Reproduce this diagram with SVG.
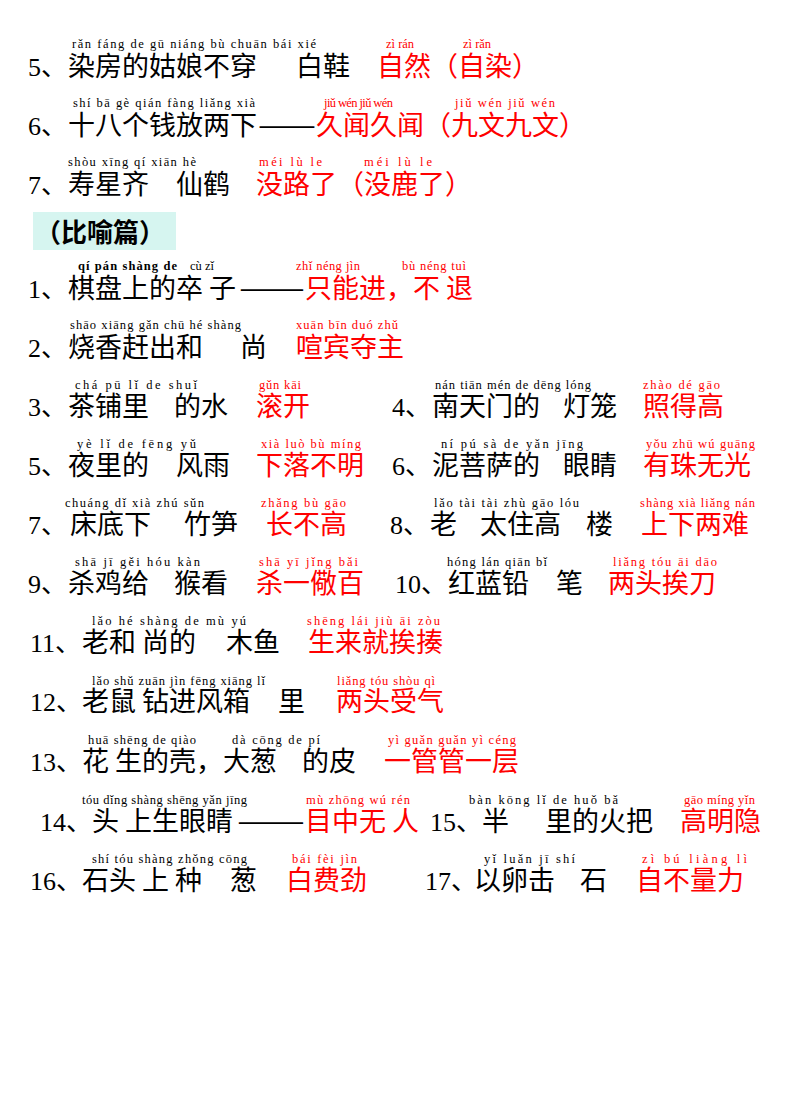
<svg xmlns="http://www.w3.org/2000/svg" width="800" height="1098" viewBox="0 0 800 1098">
<style>
.n{font-family:"Liberation Serif","Noto Sans CJK SC",serif;font-size:26px;fill:#000}
.c{font-family:"Noto Sans CJK SC",sans-serif;font-size:27px;fill:#000}
.r{fill:#f00}
.p{font-family:"Liberation Serif",serif;font-size:12.5px;fill:#000}
.pr{fill:#f00}
.b{font-weight:bold}
</style>
<rect width="800" height="1098" fill="#fff"/>
<g id="row1">
<text class="n" x="28" y="76">5、</text><text class="c" x="68" y="76">染房的姑娘不穿</text><text class="c" x="296" y="76">白鞋</text><text class="c r" x="377" y="76">自然（自染）</text>
<text class="p" x="72" y="48" textLength="244" lengthAdjust="spacing">rǎn fáng de gū niáng bù chuān bái xié</text>
<text class="p pr" x="386" y="48">zì rán</text><text class="p pr" x="463" y="48">zì rǎn</text>
</g>
<g id="row2">
<text class="n" x="28" y="135">6、</text><text class="c" x="68" y="135">十八个钱放两下</text><text class="c" x="258" y="135" textLength="58" lengthAdjust="spacingAndGlyphs">——</text><text class="c r" x="316" y="135">久闻久闻（九文九文）</text>
<text class="p" x="73" y="107" textLength="182" lengthAdjust="spacing">shí bā gè qián fàng liǎng xià</text>
<text class="p pr" x="324" y="107" textLength="69" lengthAdjust="spacing">jiǔ wén jiǔ wén</text><text class="p pr" x="455" y="107" textLength="100" lengthAdjust="spacing">jiǔ wén jiǔ wén</text>
</g>
<g id="row3">
<text class="n" x="28" y="194">7、</text><text class="c" x="68" y="194">寿星齐</text><text class="c" x="176" y="194">仙鹤</text><text class="c r" x="256" y="194">没路了（没鹿了）</text>
<text class="p" x="68" y="166" textLength="128" lengthAdjust="spacing">shòu xīng qí xiān hè</text>
<text class="p pr" x="259" y="166" textLength="63" lengthAdjust="spacing">méi lù le</text><text class="p pr" x="364" y="166" textLength="68" lengthAdjust="spacing">méi lù le</text>
</g>
<g id="header">
<rect x="33" y="212" width="143" height="38" fill="#d6f5f0"/>
<text class="c b" x="35" y="242" style="font-size:26px">（比喻篇）</text>
</g>
<g id="s1">
<text class="n" x="28" y="298">1、</text><text class="c" x="68" y="298">棋盘上的卒 子</text><text class="c" x="239" y="298" textLength="66" lengthAdjust="spacingAndGlyphs">——</text><text class="c r" x="305" y="298">只能进，不 退</text>
<text class="p b" x="78" y="270" textLength="99" lengthAdjust="spacing">qí pán shàng de</text><text class="p" x="190" y="270">cù   zǐ</text>
<text class="p pr" x="296" y="270" textLength="64" lengthAdjust="spacing">zhǐ néng jìn</text><text class="p pr" x="402" y="270" textLength="64" lengthAdjust="spacing">bù néng tuì</text>
</g>
<g id="s2">
<text class="n" x="28" y="357">2、</text><text class="c" x="68" y="357">烧香赶出和</text><text class="c" x="240" y="357">尚</text><text class="c r" x="296" y="357">喧宾夺主</text>
<text class="p" x="70" y="329" textLength="171" lengthAdjust="spacing">shāo xiāng gǎn chū hé shàng</text>
<text class="p pr" x="296" y="329" textLength="102" lengthAdjust="spacing">xuān bīn duó zhǔ</text>
</g>
<g id="s3">
<text class="n" x="28" y="416">3、</text><text class="c" x="68" y="416">茶铺里</text><text class="c" x="174" y="416">的水</text><text class="c r" x="256" y="416">滚开</text>
<text class="p" x="75" y="389" textLength="122" lengthAdjust="spacing">chá pū lǐ de shuǐ</text>
<text class="p pr" x="259" y="389" textLength="42" lengthAdjust="spacing">gǔn kāi</text>
</g>
<g id="s4">
<text class="n" x="392" y="416">4、</text><text class="c" x="432" y="416">南天门的</text><text class="c" x="563" y="416">灯笼</text><text class="c r" x="643" y="416">照得高</text>
<text class="p" x="435" y="389" textLength="156" lengthAdjust="spacing">nán tiān mén de dēng lóng</text>
<text class="p pr" x="643" y="389" textLength="77" lengthAdjust="spacing">zhào dé gāo</text>
</g>
<g id="s5">
<text class="n" x="28" y="475">5、</text><text class="c" x="68" y="475">夜里的</text><text class="c" x="176" y="475">风雨</text><text class="c r" x="256" y="475">下落不明</text>
<text class="p" x="77" y="448" textLength="119" lengthAdjust="spacing">yè lǐ de fēng yǔ</text>
<text class="p pr" x="261" y="448" textLength="100" lengthAdjust="spacing">xià luò bù míng</text>
</g>
<g id="s6">
<text class="n" x="392" y="475">6、</text><text class="c" x="432" y="475">泥菩萨的</text><text class="c" x="563" y="475">眼睛</text><text class="c r" x="643" y="475">有珠无光</text>
<text class="p" x="441" y="448" textLength="142" lengthAdjust="spacing">ní pú sà de yǎn jīng</text>
<text class="p pr" x="646" y="448" textLength="109" lengthAdjust="spacing">yǒu zhū wú guāng</text>
</g>
<g id="s7">
<text class="n" x="28" y="534">7、</text><text class="c" x="70" y="534">床底下</text><text class="c" x="184" y="534">竹笋</text><text class="c r" x="266" y="534">长不高</text>
<text class="p" x="65" y="507" textLength="139" lengthAdjust="spacing">chuáng dǐ xià zhú sǔn</text>
<text class="p pr" x="261" y="507" textLength="85" lengthAdjust="spacing">zhǎng bù gāo</text>
</g>
<g id="s8">
<text class="n" x="390" y="534">8、</text><text class="c" x="430" y="534">老</text><text class="c" x="480" y="534">太住高</text><text class="c" x="586" y="534">楼</text><text class="c r" x="641" y="534">上下两难</text>
<text class="p" x="434" y="507" textLength="145" lengthAdjust="spacing">lǎo tài tài zhù gāo lóu</text>
<text class="p pr" x="640" y="507" textLength="115" lengthAdjust="spacing">shàng xià liǎng nán</text>
</g>
<g id="s9">
<text class="n" x="28" y="593">9、</text><text class="c" x="68" y="593">杀鸡给</text><text class="c" x="174" y="593">猴看</text><text class="c r" x="256" y="593">杀一儆百</text>
<text class="p" x="75" y="566" textLength="125" lengthAdjust="spacing">shā jī gěi hóu kàn</text>
<text class="p pr" x="259" y="566" textLength="99" lengthAdjust="spacing">shā yī jǐng bǎi</text>
</g>
<g id="s10">
<text class="n" x="395" y="593">10、</text><text class="c" x="448" y="593">红蓝铅</text><text class="c" x="556" y="593">笔</text><text class="c r" x="608" y="593">两头挨刀</text>
<text class="p" x="447" y="566" textLength="100" lengthAdjust="spacing">hóng lán qiān bǐ</text>
<text class="p pr" x="613" y="566" textLength="104" lengthAdjust="spacing">liǎng tóu āi dāo</text>
</g>
<g id="s11">
<text class="n" x="30" y="652">11、</text><text class="c" x="82" y="652">老和 尚的</text><text class="c" x="226" y="652">木鱼</text><text class="c r" x="308" y="652">生来就挨揍</text>
<text class="p" x="92" y="625" textLength="154" lengthAdjust="spacing">lǎo hé shàng de mù yú</text>
<text class="p pr" x="307" y="625" textLength="133" lengthAdjust="spacing">shēng lái jiù āi zòu</text>
</g>
<g id="s12">
<text class="n" x="30" y="711">12、</text><text class="c" x="82" y="711">老鼠 钻进风箱</text><text class="c" x="278" y="711">里</text><text class="c r" x="336" y="711">两头受气</text>
<text class="p" x="92" y="685" textLength="173" lengthAdjust="spacing">lǎo shǔ zuān jìn fēng xiāng lǐ</text>
<text class="p pr" x="337" y="685" textLength="98" lengthAdjust="spacing">liǎng tóu shòu qì</text>
</g>
<g id="s13">
<text class="n" x="30" y="771">13、</text><text class="c" x="82" y="771">花 生的壳，大葱</text><text class="c" x="302" y="771">的皮</text><text class="c r" x="384" y="771">一管管一层</text>
<text class="p" x="88" y="744" textLength="108" lengthAdjust="spacing">huā shēng de qiào</text><text class="p" x="232" y="744" textLength="88" lengthAdjust="spacing">dà cōng de pí</text>
<text class="p pr" x="388" y="744" textLength="128" lengthAdjust="spacing">yì guǎn guǎn yì céng</text>
</g>
<g id="s14">
<text class="n" x="40" y="831">14、</text><text class="c" x="92" y="831">头 上生眼睛</text><text class="c" x="237" y="831" textLength="68" lengthAdjust="spacingAndGlyphs">——</text><text class="c r" x="305" y="831">目中无 人</text>
<text class="p" x="82" y="804" textLength="165" lengthAdjust="spacing">tóu dǐng shàng shēng yǎn jīng</text>
<text class="p pr" x="306" y="804" textLength="104" lengthAdjust="spacing">mù zhōng wú rén</text>
</g>
<g id="s15">
<text class="n" x="430" y="831">15、</text><text class="c" x="482" y="831">半</text><text class="c" x="545" y="831">里的火把</text><text class="c r" x="680" y="831">高明隐</text>
<text class="p" x="469" y="804" textLength="149" lengthAdjust="spacing">bàn kōng lǐ de huǒ bǎ</text>
<text class="p pr" x="684" y="804" textLength="71" lengthAdjust="spacing">gāo míng yǐn</text>
</g>
<g id="s16">
<text class="n" x="30" y="890">16、</text><text class="c" x="82" y="890">石头 上 种</text><text class="c" x="230" y="890">葱</text><text class="c r" x="286" y="890">白费劲</text>
<text class="p" x="92" y="863" textLength="155" lengthAdjust="spacing">shí tóu shàng zhǒng cōng</text>
<text class="p pr" x="292" y="863" textLength="65" lengthAdjust="spacing">bái fèi jìn</text>
</g>
<g id="s17">
<text class="n" x="425" y="890">17、</text><text class="c" x="474" y="890">以卵击</text><text class="c" x="580" y="890">石</text><text class="c r" x="636" y="890">自不量力</text>
<text class="p" x="484" y="863" textLength="91" lengthAdjust="spacing">yǐ luǎn jī shí</text>
<text class="p pr" x="642" y="863" textLength="105" lengthAdjust="spacing">zì bú liàng lì</text>
</g>
</svg>
